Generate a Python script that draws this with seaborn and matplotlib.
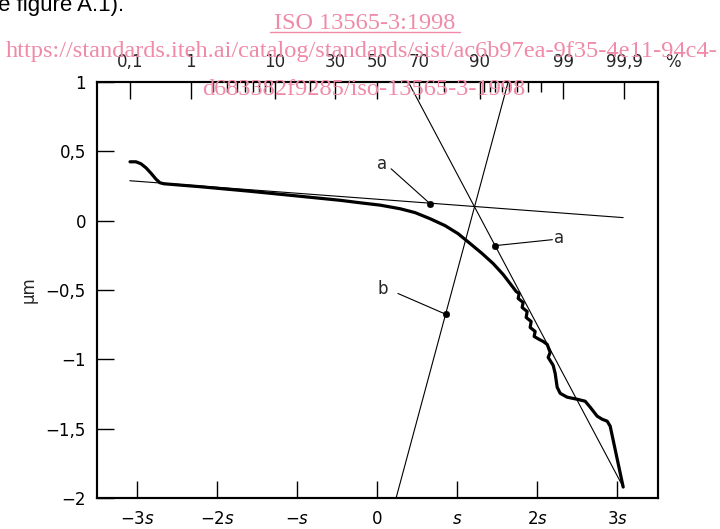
import matplotlib
matplotlib.use("Agg")
import numpy as np
import pandas as pd
import seaborn as sns
import matplotlib.pyplot as plt
from matplotlib.lines import Line2D
from statistics import NormalDist

# ---------------- data ----------------
curve_x = [-3.0875, -3.0125, -2.95, -2.8875, -2.825, -2.7625, -2.7125, -2.6625, -2.2125,
           -1.5875, -0.9625, -0.4625, -0.2125, 0.0375, 0.2875, 0.475, 0.6625, 0.85, 1.0125,
           1.1625, 1.3125, 1.45, 1.575, 1.70,
           1.7375, 1.775, 1.7625, 1.825, 1.8125, 1.875, 1.8625, 1.925, 1.9125, 1.975, 1.9625,
           2.025, 2.075, 2.125, 2.1625, 2.1375, 2.2, 2.225, 2.25, 2.2875, 2.375, 2.5, 2.6,
           2.6625, 2.75, 2.8125, 2.875, 2.9125, 3.075]
curve_y = [0.4245, 0.4245, 0.410, 0.381, 0.342, 0.299, 0.273, 0.266, 0.245,
           0.212, 0.176, 0.147, 0.129, 0.112, 0.086, 0.058, 0.014, -0.036, -0.094,
           -0.165, -0.237, -0.309, -0.388, -0.482,
           -0.511, -0.525, -0.561, -0.590, -0.626, -0.655, -0.698, -0.727, -0.770, -0.799,
           -0.835, -0.856, -0.871, -0.892, -0.950, -0.986, -1.043, -1.101, -1.201, -1.245,
           -1.273, -1.288, -1.302, -1.345, -1.410, -1.432, -1.446, -1.482, -1.921]

line_a1_x = [-3.09, 3.075]
line_a1_y = [0.288, 0.022]
line_a2_x = [0.39, 3.075]
line_a2_y = [1.0, -1.921]
line_b_x = [1.6375, 0.2375]
line_b_y = [1.0, -2.0]

dot_x = [0.6625, 1.475, 0.8625]
dot_y = [0.122, -0.18, -0.676]
note_text = ["a", "a", "b"]
note_x = [0.0625, 2.275, 0.075]
note_y = [0.41, -0.122, -0.496]
leader_x = [0.175, 2.19, 0.26]
leader_y = [0.374, -0.137, -0.525]

y_ticks = [-2, -1.5, -1, -0.5, 0, 0.5, 1]
y_labels = ["\u22122", "\u22121,5", "\u22121", "\u22120,5", "0", "0,5", "1"]
x_ticks = [-3, -2, -1, 0, 1, 2, 3]
x_labels = ["\u22123$\\it{s}$", "\u22122$\\it{s}$", "\u2212$\\it{s}$", "0",
            "$\\it{s}$", "2$\\it{s}$", "3$\\it{s}$"]
pct_major = [0.1, 1, 10, 30, 50, 70, 90, 99, 99.9]
pct_major_labels = ["0,1", "1", "10", "30", "50", "70", "90", "99", "99,9"]
pct_minor = [2, 3, 4, 5, 6, 7, 8, 9, 20, 80, 91, 92, 93, 94, 95, 96, 97, 98]
y_label = "\u00b5m"

# ---------------- style ----------------
sns.set_theme(style="white")
plt.rcParams["font.family"] = ["DejaVu Sans"]
plt.rcParams["mathtext.fontset"] = "dejavusans"
plt.rcParams["axes.linewidth"] = 1.5
plt.rcParams["axes.edgecolor"] = "black"

fig = plt.figure(figsize=(7.2, 5.29), dpi=100)
ax = fig.add_axes([97 / 720, 31 / 529, (658 - 97) / 720, (498 - 82) / 529])

thin = dict(color="black", linewidth=0.8)
sns.lineplot(x=line_a1_x, y=line_a1_y, ax=ax, sort=False, estimator=None, **thin)
sns.lineplot(x=line_a2_x, y=line_a2_y, ax=ax, sort=False, estimator=None, **thin)
sns.lineplot(x=line_b_x, y=line_b_y, ax=ax, sort=False, estimator=None, **thin)
sns.lineplot(x=curve_x, y=curve_y, ax=ax, sort=False, estimator=None,
             color="black", linewidth=2.3, solid_joinstyle="round", solid_capstyle="round")
sns.scatterplot(x=dot_x, y=dot_y, ax=ax, color="black", s=22, edgecolor="black", zorder=5)

for t, nx, ny, lx, ly, dx, dy in zip(note_text, note_x, note_y, leader_x, leader_y, dot_x, dot_y):
    ax.text(nx, ny, t, fontsize=12, ha="center", va="center")
    ax.plot([lx, dx], [ly, dy], color="black", linewidth=0.8)

ax.set_xlim(-3.5, 3.51)
ax.set_ylim(-2, 1)
ax.set_yticks(y_ticks)
ax.set_yticklabels(y_labels)
ax.set_xticks(x_ticks)
ax.set_xticklabels(x_labels)
ax.tick_params(axis="both", direction="in", length=12, width=1.0, labelsize=12,
               color="black", labelcolor="black")
ax.tick_params(axis="y", pad=8, left=True)
ax.tick_params(axis="x", pad=9, bottom=True)
ax.set_ylabel(y_label, fontsize=12, labelpad=6)
for sp in ax.spines.values():
    sp.set_visible(True)
    sp.set_linewidth(1.5)

# top probability axis
nd = NormalDist()
top = ax.twiny()
top.set_xlim(ax.get_xlim())
top.set_xticks([nd.inv_cdf(p / 100) for p in pct_major])
top.set_xticklabels(pct_major_labels)
top.set_xticks([nd.inv_cdf(p / 100) for p in pct_minor], minor=True)
top.tick_params(axis="x", which="major", direction="in", length=12, width=1.0,
                labelsize=12, pad=8, top=True, color="black")
top.tick_params(axis="x", which="minor", direction="in", length=7, width=1.0,
                top=True, color="black")
top.grid(False)
ax.grid(False)
top.annotate("%", xy=(3.7, 1.0), xycoords=top.get_xaxis_transform(),
             xytext=(0, 8), textcoords="offset points", fontsize=12,
             ha="center", va="bottom", annotation_clip=False)

# ---------------- page text / watermark ----------------
H = 529.0
fig.text(-2 / 720, 1 - 11 / H, "e figure A.1).", fontsize=16, color="black",
         family="Liberation Sans", va="baseline", ha="left")
pink = "#F08AA8"
fig.text(365 / 720, 1 - 29 / H, "ISO 13565-3:1998", fontsize=17.5, color=pink,
         family="Liberation Serif", ha="center", va="baseline")
fig.add_artist(Line2D([270 / 720, 460 / 720], [1 - 32 / H, 1 - 32 / H],
                      color=pink, linewidth=1.0))
fig.text(362 / 720, 1 - 57 / H,
         "https://standards.iteh.ai/catalog/standards/sist/ac6b97ea-9f35-4e11-94c4-",
         fontsize=17.6, color=pink, family="Liberation Serif", ha="center", va="baseline")
fig.text(364 / 720, 1 - 95 / H, "d683382f9285/iso-13565-3-1998",
         fontsize=17.6, color=pink, family="Liberation Serif", ha="center", va="baseline")

fig.savefig("out.png", dpi=100)
